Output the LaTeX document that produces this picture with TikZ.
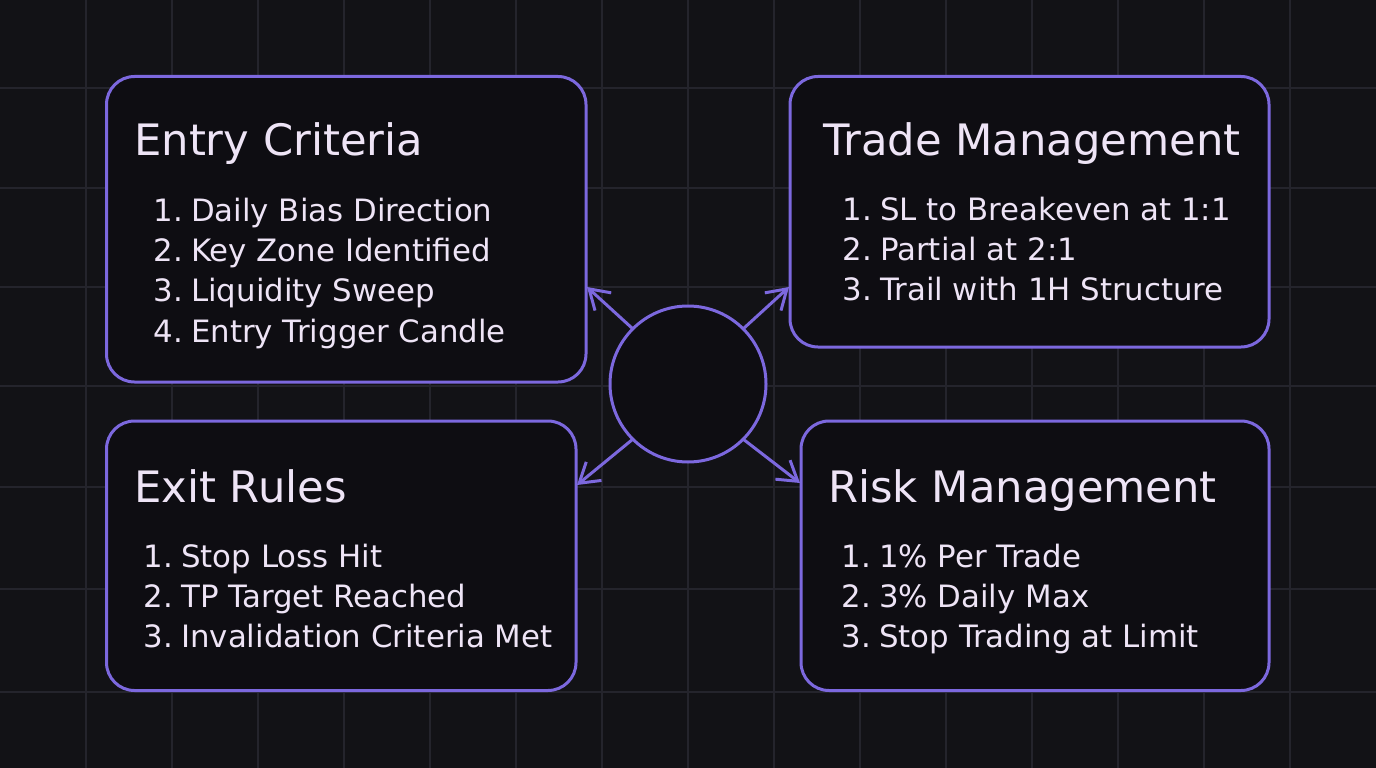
\documentclass[tikz,border=0pt]{standalone}
\usepackage{fontspec}
\setmainfont{DejaVu Sans}
\usetikzlibrary{arrows.meta}
\definecolor{bg}{RGB}{18,18,22}
\definecolor{gridc}{RGB}{36,36,44}
\definecolor{boxbg}{RGB}{14,13,18}
\definecolor{accent}{RGB}{124,104,222}
\definecolor{fg}{RGB}{238,228,246}
\tikzset{
  panel/.style={draw=accent, line width=3pt, rounded corners=28pt, fill=boxbg, outer sep=0pt, inner sep=0pt, anchor=north west},
  ttl/.style={text=fg, font=\fontsize{43.3}{50}\selectfont, anchor=base west, inner sep=0pt},
  nums/.style={text=fg, font=\fontsize{30.8}{40.4}\selectfont, anchor=base east, inner sep=0pt},
  items/.style={text=fg, font=\fontsize{30.8}{40.4}\selectfont, anchor=base west, inner sep=0pt},
  hub/.style={circle, draw=accent, line width=3pt, fill=boxbg, minimum size=156pt, inner sep=0pt, outer sep=0pt},
  link/.style={draw=accent, line width=3pt, line cap=round, -{Straight Barb[length=19pt,width=24pt,line width=3pt]}}
}
\newcommand{\numcol}[1]{\begin{tabular}[t]{@{}r@{}}#1\end{tabular}}
\newcommand{\itemcol}[1]{\begin{tabular}[t]{@{}l@{}}#1\end{tabular}}
\begin{document}
\begin{tikzpicture}[x=1pt,y=-1pt]
\useasboundingbox (0,0) rectangle (1376,768);
\fill[bg] (0,0) rectangle (1376,768);
\foreach \gx in {86,172,...,1290} \draw[gridc, line width=2pt] (\gx,0) -- (\gx,768);
\foreach \gy in {88,188,287,386,487,589,692} \draw[gridc, line width=2pt] (0,\gy) -- (1376,\gy);

% panels
\node[panel, minimum width=479.5pt, minimum height=305.5pt] (entry) at (106.5,76.5) {};
\node[panel, minimum width=479pt, minimum height=270.5pt] (trade) at (790,76.5) {};
\node[panel, minimum width=469.5pt, minimum height=269.5pt] (exit) at (106.5,421) {};
\node[panel, minimum width=468pt, minimum height=269.5pt] (risk) at (801,421) {};

% hub
\node[hub] (c) at (688,384) {};

% titles
\node[ttl] (entryT) at (134,155) {Entry Criteria};
\node[ttl] (tradeT) at (823,155) {Trade Management};
\node[ttl] (exitT) at (134,502) {Exit Rules};
\node[ttl] (riskT) at (828,502) {Risk Management};

% lists
\node[nums] (entryN) at (183,221) {\numcol{1.\\2.\\3.\\4.}};
\node[items] (entryI) at (191,221) {\itemcol{Daily Bias Direction\\Key Zone Identified\\Liquidity Sweep\\Entry Trigger Candle}};
\node[nums] (tradeN) at (872,220) {\numcol{1.\\2.\\3.}};
\node[items] (tradeI) at (880,220) {\itemcol{SL to Breakeven at 1:1\\Partial at 2:1\\Trail with 1H Structure}};
\node[nums] (exitN) at (173,567) {\numcol{1.\\2.\\3.}};
\node[items] (exitI) at (181,567) {\itemcol{Stop Loss Hit\\TP Target Reached\\Invalidation Criteria Met}};
\node[nums] (riskN) at (871,567) {\numcol{1.\\2.\\3.}};
\node[items] (riskI) at (879,567) {\itemcol{1\% Per Trade\\3\% Daily Max\\Stop Trading at Limit}};

% arrow tips on panel edges
\coordinate (tE) at (587,287);
\coordinate (tT) at (789,287);
\coordinate (tX) at (577,485);
\coordinate (tR) at (800,483);
\draw[link] (c.135) -- (tE);
\draw[link] (c.45) -- (tT);
\draw[link] (c.225) -- (tX);
\draw[link] (c.-45) -- (tR);
\end{tikzpicture}
\end{document}
